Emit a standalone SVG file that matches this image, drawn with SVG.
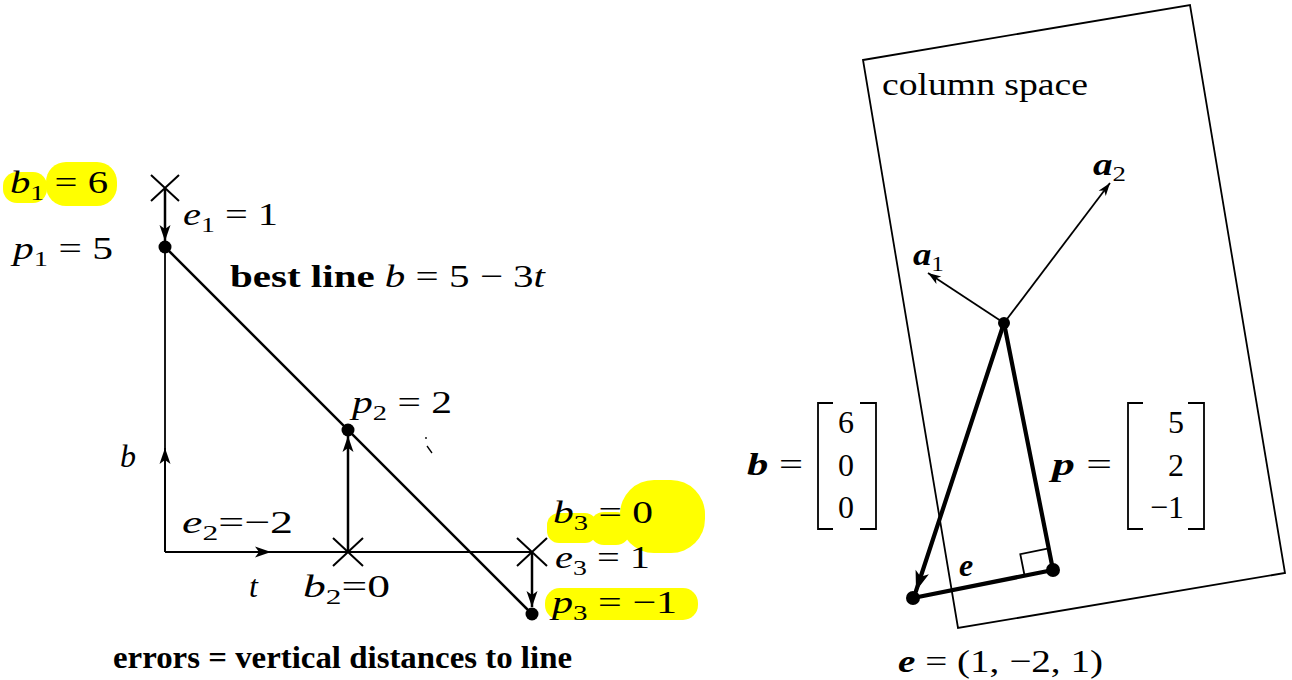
<svg xmlns="http://www.w3.org/2000/svg" width="1292" height="680" viewBox="0 0 1292 680">
<style>
text{font-family:"Liberation Serif","DejaVu Serif",serif;font-size:32px;fill:#000}
.i{font-style:italic}
.bi{font-style:italic;font-weight:bold}
.bd{font-weight:bold}
.sub{font-size:22px}
.hl{fill:#ffff00;stroke:none}
.thin{stroke:#000;stroke-width:1.8;fill:none}
.med{stroke:#000;stroke-width:2.5;fill:none}
.thick{stroke:#000;stroke-width:4.2;fill:none;stroke-linecap:round}
.dot{fill:#000}
</style>
<defs>
<marker id="ah" markerUnits="userSpaceOnUse" viewBox="-17 -6 18 12" refX="0" refY="0" markerWidth="18" markerHeight="12" orient="auto">
<path d="M0,0 L-16,-5.5 L-12,0 L-16,5.5 Z" fill="#000"/>
</marker>
<marker id="ahs" markerUnits="userSpaceOnUse" viewBox="-14 -5 15 10" refX="0" refY="0" markerWidth="15" markerHeight="10" orient="auto">
<path d="M0,0 L-13,-4.5 L-9.5,0 L-13,4.5 Z" fill="#000"/>
</marker>
<marker id="ahb" markerUnits="userSpaceOnUse" viewBox="-22 -8 23 16" refX="0" refY="0" markerWidth="23" markerHeight="16" orient="auto">
<path d="M0,0 L-20,-7 L-15,0 L-20,7 Z" fill="#000"/>
</marker>
</defs>
<rect width="1292" height="680" fill="#fff"/>

<!-- highlights -->
<g id="highlights">
<rect class="hl" x="3" y="172" width="44" height="31" rx="14"/>
<rect class="hl" x="46" y="162" width="71" height="44" rx="20"/>
<rect class="hl" x="547" y="513" width="50" height="30" rx="12"/>
<rect class="hl" x="590" y="512" width="40" height="33" rx="14"/>
<rect class="hl" x="620" y="480" width="85" height="73" rx="34"/>
<rect class="hl" x="545" y="588" width="153" height="32" rx="15"/>
</g>

<!-- connectors -->
<g id="connectors">
<line class="med" x1="165" y1="247" x2="532" y2="614"/>
<line class="thin" x1="165" y1="552" x2="165" y2="247"/>
<line class="thin" x1="165" y1="552" x2="165" y2="448" marker-end="url(#ah)"/>
<line class="thin" x1="165" y1="552" x2="532" y2="552"/>
<line class="thin" x1="165" y1="552" x2="271" y2="552" marker-end="url(#ah)"/>
<line class="med" x1="165" y1="188" x2="165" y2="241" marker-end="url(#ah)"/>
<line class="med" x1="348" y1="552" x2="348" y2="436" marker-end="url(#ah)"/>
<line class="med" x1="532" y1="552" x2="532" y2="607" marker-end="url(#ah)"/>
<path d="M427,446 L432,453" stroke="#000" stroke-width="1.3"/>
<circle cx="426" cy="438" r="0.9" fill="#000"/>

<polygon id="column-space-plane" class="thin" points="863,60 1190,5 1285,573 958,628"/>
<line class="thin" x1="1004" y1="323" x2="928" y2="273" marker-end="url(#ahs)"/>
<line class="thin" x1="1004" y1="323" x2="1110" y2="183" marker-end="url(#ahs)"/>
<line class="thick" x1="1004" y1="323" x2="916" y2="591" marker-end="url(#ahb)"/>
<line class="thick" x1="1004" y1="323" x2="1053" y2="570"/>
<line class="thick" x1="913" y1="598" x2="1053" y2="570"/>
<polyline class="thin" points="1048.7,548.4 1020.3,554.1 1024.6,575.7"/>
</g>

<!-- left plot nodes -->
<g id="point-1">
<path d="M151,175 L179,201 M179,175 L151,201" stroke="#000" stroke-width="2"/>
<circle class="dot" cx="165" cy="247" r="6.5"/>
<text x="10" y="193" textLength="98" lengthAdjust="spacingAndGlyphs"><tspan class="i">b</tspan><tspan class="sub" dy="7">1</tspan><tspan dy="-7"> = 6</tspan></text>
<text x="183" y="225" textLength="95" lengthAdjust="spacingAndGlyphs"><tspan class="i">e</tspan><tspan class="sub" dy="7">1</tspan><tspan dy="-7"> = 1</tspan></text>
<text x="13" y="259" textLength="100" lengthAdjust="spacingAndGlyphs"><tspan class="i">p</tspan><tspan class="sub" dy="7">1</tspan><tspan dy="-7"> = 5</tspan></text>
</g>
<g id="point-2">
<path d="M333,538 L363,566 M363,538 L333,566" stroke="#000" stroke-width="2"/>
<circle class="dot" cx="348" cy="430" r="6.5"/>
<text x="352" y="413" textLength="100" lengthAdjust="spacingAndGlyphs"><tspan class="i">p</tspan><tspan class="sub" dy="7">2</tspan><tspan dy="-7"> = 2</tspan></text>
<text x="182" y="533" textLength="111" lengthAdjust="spacingAndGlyphs"><tspan class="i">e</tspan><tspan class="sub" dy="7">2</tspan><tspan dy="-7">=−2</tspan></text>
<text x="303" y="597" textLength="87" lengthAdjust="spacingAndGlyphs"><tspan class="i">b</tspan><tspan class="sub" dy="7">2</tspan><tspan dy="-7">=0</tspan></text>
</g>
<g id="point-3">
<path d="M517,538 L547,566 M547,538 L517,566" stroke="#000" stroke-width="2"/>
<circle class="dot" cx="532" cy="614" r="6.5"/>
<text x="553" y="523" textLength="100" lengthAdjust="spacingAndGlyphs"><tspan class="i">b</tspan><tspan class="sub" dy="7">3</tspan><tspan dy="-7"> = 0</tspan></text>
<text x="555" y="568" textLength="95" lengthAdjust="spacingAndGlyphs"><tspan class="i">e</tspan><tspan class="sub" dy="7">3</tspan><tspan dy="-7"> = 1</tspan></text>
<text x="552" y="613" textLength="125" lengthAdjust="spacingAndGlyphs"><tspan class="i">p</tspan><tspan class="sub" dy="7">3</tspan><tspan dy="-7"> = −1</tspan></text>
</g>
<g id="axis-labels">
<text class="i" x="120" y="467">b</text>
<text class="i" x="249" y="597">t</text>
</g>
<g id="best-line-label">
<text x="230" y="287" textLength="315" lengthAdjust="spacingAndGlyphs"><tspan class="bd">best line </tspan><tspan class="i">b</tspan><tspan> = 5 − 3</tspan><tspan class="i">t</tspan></text>
</g>
<g id="caption">
<text class="bd" x="113" y="668" font-size="30" textLength="459" lengthAdjust="spacingAndGlyphs">errors = vertical distances to line</text>
</g>

<!-- right figure nodes -->
<g id="column-space-label">
<text x="882" y="95" textLength="206" lengthAdjust="spacingAndGlyphs">column space</text>
</g>
<g id="a1">
<text x="913" y="265" textLength="31" lengthAdjust="spacingAndGlyphs"><tspan class="bi">a</tspan><tspan class="sub" dy="6">1</tspan></text>
</g>
<g id="a2">
<text x="1093" y="175" textLength="33" lengthAdjust="spacingAndGlyphs"><tspan class="bi">a</tspan><tspan class="sub" dy="6">2</tspan></text>
</g>
<g id="origin">
<circle class="dot" cx="1004" cy="323" r="6"/>
</g>
<g id="b-end">
<circle class="dot" cx="913" cy="598" r="7"/>
</g>
<g id="p-end">
<circle class="dot" cx="1053" cy="570" r="7"/>
</g>
<g id="e-label">
<text class="bi" x="959" y="576">e</text>
</g>
<g id="b-vector">
<text x="747" y="475" textLength="56" lengthAdjust="spacingAndGlyphs"><tspan class="bi">b</tspan> =</text>
<path class="thin" d="M833,403 L818,403 L818,529 L833,529 M860,403 L876,403 L876,529 L860,529" stroke-width="2.2"/>
<text x="846" y="433" text-anchor="middle">6</text>
<text x="846" y="476" text-anchor="middle">0</text>
<text x="846" y="518" text-anchor="middle">0</text>
</g>
<g id="p-vector">
<text x="1052" y="475" textLength="60" lengthAdjust="spacingAndGlyphs"><tspan class="bi">p</tspan> =</text>
<path class="thin" d="M1143,403 L1128,403 L1128,529 L1143,529 M1188,403 L1204,403 L1204,529 L1188,529" stroke-width="2.2"/>
<text x="1184" y="433" text-anchor="end">5</text>
<text x="1184" y="476" text-anchor="end">2</text>
<text x="1184" y="518" text-anchor="end">−1</text>
</g>
<g id="e-vector">
<text x="898" y="672" textLength="205" lengthAdjust="spacingAndGlyphs"><tspan class="bi">e</tspan> = (1, −2, 1)</text>
</g>
</svg>
